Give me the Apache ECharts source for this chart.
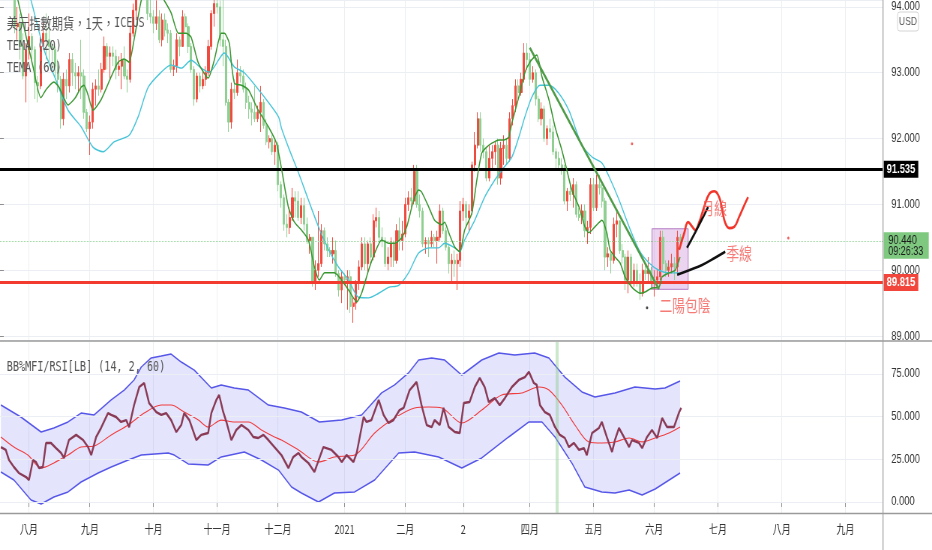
<!DOCTYPE html>
<html><head><meta charset="utf-8">
<script src="https://cdn.jsdelivr.net/npm/echarts@6/dist/echarts.min.js"></script>
<style>
html,body{margin:0;padding:0;background:#fff;overflow:hidden;}
#wrap{width:932px;height:550px;overflow:hidden;position:relative;background:#fff;}
#c{width:1243px;height:550px;transform:scaleX(0.749799);transform-origin:0 0;}
</style></head><body>
<div id="wrap"><div id="c"></div></div>
<script>
// ---------- calendar / tick labels ----------
const startDate = [2020, 6, 20];   // first weekday slot (2020-07-20)
const slotCount = 306;             // weekday slots incl. future space
const monthLabels = ['八月','九月','十月','十一月','十二月','2021','二月','2','四月','五月','六月','七月','八月','九月'];

// ---------- daily candles [open, close, low, high] ----------
const ohlc = [
[95.90,95.80,95.70,96.10],[95.80,95.10,95.00,95.90],[95.10,95.00,94.85,95.30],[95.00,94.70,94.55,95.15],[94.70,94.40,94.30,94.80],
[94.40,93.70,93.60,94.45],[93.70,93.75,93.50,94.00],[93.75,93.40,93.20,93.90],[93.40,92.95,92.90,93.60],[92.95,93.35,92.55,93.45],
[93.35,93.55,93.20,93.90],[93.55,93.35,93.20,93.60],[93.35,92.85,92.60,93.40],[92.85,92.80,92.55,92.95],[92.80,93.40,92.75,93.55],
[93.40,93.60,93.35,93.75],[93.60,93.50,93.20,93.90],[93.50,93.40,93.10,93.75],[93.40,93.35,93.00,93.45],[93.35,93.10,92.90,93.40],
[93.10,92.90,92.70,93.20],[92.90,92.30,92.15,92.95],[92.30,92.90,92.20,93.00],[92.90,92.80,92.60,93.05],[92.80,93.20,92.70,93.30],
[93.20,93.00,92.80,93.30],[93.00,92.95,92.75,93.15],[92.95,93.00,92.70,93.10],[93.00,92.95,92.60,93.50],[92.95,92.40,92.30,93.05],
[92.40,92.15,92.10,92.45],[92.15,92.25,91.75,92.35],[92.25,92.75,92.15,92.85],[92.75,92.80,92.50,92.90],[92.80,92.75,92.65,93.05],
[92.75,93.05,92.70,93.15],[93.05,93.40,93.00,93.55],[93.40,93.25,93.05,93.45],[93.25,93.30,92.90,93.40],[93.30,93.25,93.10,93.40],
[93.25,93.05,92.90,93.35],[93.05,93.10,92.95,93.25],[93.10,93.20,92.75,93.30],[93.20,92.95,92.90,93.40],[92.95,92.90,92.70,93.05],
[92.90,93.60,92.85,93.70],[93.60,93.95,93.55,94.05],[93.95,94.35,93.80,94.50],[94.35,94.40,94.20,94.70],[94.40,94.60,94.30,94.75],
[94.60,94.25,94.20,94.65],[94.25,93.90,93.80,94.35],[93.90,93.85,93.75,94.25],[93.85,93.75,93.60,93.95],[93.75,93.85,93.65,94.10],
[93.85,93.50,93.45,93.95],[93.50,93.80,93.40,93.90],[93.80,93.65,93.55,93.90],[93.65,93.60,93.45,93.75],[93.60,93.05,93.00,93.65],
[93.05,93.10,92.95,93.20],[93.10,93.50,93.00,93.60],[93.50,93.40,93.25,93.55],[93.40,93.85,93.40,93.95],[93.85,93.70,93.60,93.90],
[93.70,93.40,93.30,93.75],[93.40,93.05,93.00,93.45],[93.05,92.60,92.50,93.10],[92.60,92.95,92.55,93.00],[92.95,92.80,92.70,93.00],
[92.80,92.90,92.75,93.05],[92.90,93.00,92.80,93.10],[93.00,93.40,92.95,93.50],[93.40,93.90,93.35,93.95],[93.90,94.05,93.70,94.15],
[94.05,94.00,93.90,94.30],[94.00,93.50,93.40,94.10],[93.50,93.40,93.10,94.30],[93.40,92.55,92.50,93.50],[92.55,92.25,92.10,92.60],
[92.25,92.75,92.15,92.85],[92.75,92.70,92.60,92.90],[92.70,93.00,92.65,93.20],[93.00,92.95,92.85,93.10],[92.95,92.75,92.70,93.05],
[92.75,92.55,92.45,92.85],[92.55,92.45,92.30,92.65],[92.45,92.40,92.20,92.55],[92.40,92.30,92.25,92.80],[92.30,92.40,92.25,92.50],
[92.40,92.55,92.10,92.80],[92.55,92.20,92.15,92.60],[92.20,91.95,91.90,92.30],[91.95,92.00,91.85,92.05],[92.00,91.80,91.75,92.05],
[91.80,91.90,91.60,92.00],[91.90,91.30,91.20,91.95],[91.30,91.10,90.95,91.35],[91.10,90.70,90.60,91.15],[90.70,90.65,90.50,90.85],
[90.65,90.80,90.55,90.95],[90.80,91.10,90.75,91.25],[91.10,91.05,90.80,91.20],[91.05,90.80,90.75,91.20],[90.80,90.98,90.70,91.10],
[90.98,90.70,90.60,91.10],[90.70,90.45,90.40,90.80],[90.45,90.50,90.25,90.55],[90.50,89.80,89.75,90.50],[89.80,90.00,89.70,90.15],
[90.00,90.10,89.90,90.90],[90.10,90.60,90.05,90.70],[90.60,90.40,90.30,90.65],[90.40,90.30,90.20,90.50],[90.30,90.25,90.20,90.35],
[90.25,90.30,90.10,90.50],[90.30,89.95,89.90,90.45],[89.95,89.70,89.60,90.00],[89.70,89.90,89.50,90.00],[89.90,89.85,89.80,89.95],
[89.85,89.90,89.40,90.00],[89.90,89.45,89.35,90.00],[89.45,89.50,89.20,89.60],[89.50,89.80,89.40,89.85],[89.80,90.05,89.70,90.15],
[90.05,90.40,90.00,90.50],[90.40,90.10,90.00,90.50],[90.10,90.40,89.95,90.45],[90.40,90.20,90.10,90.50],[90.20,90.75,90.15,90.85],
[90.75,90.80,90.65,90.95],[90.80,90.50,90.40,90.90],[90.50,90.45,90.35,90.65],[90.45,90.10,90.05,90.50],[90.10,90.20,90.00,90.35],
[90.20,90.40,90.05,90.50],[90.40,90.15,90.05,90.45],[90.15,90.60,90.10,90.70],[90.60,90.45,90.30,90.80],[90.45,90.55,90.30,90.75],
[90.55,91.00,90.50,91.10],[91.00,91.10,90.90,91.20],[91.10,91.05,90.95,91.25],[91.05,91.50,91.00,91.60],[91.50,91.00,90.95,91.60],
[91.00,90.90,90.80,91.15],[90.90,90.40,90.35,90.95],[90.40,90.45,90.25,90.50],[90.45,90.40,90.20,90.50],[90.40,90.50,90.35,90.60],
[90.50,90.45,90.35,90.55],[90.45,90.50,90.10,90.60],[90.50,90.90,90.45,91.00],[90.90,90.60,90.55,90.95],[90.60,90.35,90.30,90.65],
[90.35,90.10,89.95,90.40],[90.10,90.15,89.80,90.25],[90.15,90.10,89.90,90.30],[90.10,90.15,89.70,90.25],[90.15,90.90,90.05,91.05],
[90.90,91.00,90.75,91.10],[91.00,90.80,90.65,91.05],[90.80,90.90,90.60,91.00],[90.90,91.60,90.85,91.65],[91.60,91.90,91.50,92.10],
[91.90,92.30,91.85,92.40],[92.30,91.90,91.80,92.40],[91.90,91.80,91.70,92.00],[91.80,91.40,91.35,91.85],[91.40,91.70,91.35,91.90],
[91.70,91.80,91.55,91.90],[91.80,91.90,91.60,91.95],[91.90,91.40,91.30,92.00],[91.40,91.85,91.30,91.95],[91.85,91.90,91.60,92.05],
[91.90,91.70,91.60,92.00],[91.70,92.30,91.65,92.40],[92.30,92.50,92.20,92.60],[92.50,92.80,92.40,92.90],[92.80,92.70,92.60,92.90],
[92.70,92.90,92.65,93.00],[92.90,93.30,92.85,93.45],[93.30,93.20,93.05,93.45],[93.20,92.90,92.80,93.30],[92.90,93.00,92.85,93.10],
[93.00,92.60,92.50,93.05],[92.60,92.30,92.25,92.65],[92.30,92.45,92.20,92.55],[92.45,92.00,91.95,92.50],[92.00,92.15,91.90,92.20],
[92.15,92.10,92.00,92.30],[92.10,91.80,91.75,92.20],[91.80,91.70,91.55,91.85],[91.70,91.60,91.55,91.80],[91.60,91.55,91.45,91.70],
[91.55,91.05,91.00,91.60],[91.05,91.20,90.90,91.25],[91.20,91.15,91.05,91.30],[91.15,91.30,90.95,91.40],[91.30,90.85,90.80,91.35],
[90.85,90.80,90.75,90.95],[90.80,90.90,90.70,91.00],[90.90,90.60,90.50,91.00],[90.60,90.65,90.40,90.75],[90.65,91.30,90.55,91.40],
[91.30,90.95,90.90,91.40],[90.95,91.30,90.90,91.45],[91.30,91.25,91.15,91.45],[91.25,91.05,90.95,91.35],[91.05,90.20,90.00,91.10],
[90.20,90.25,90.05,90.35],[90.25,90.15,89.95,90.30],[90.15,90.70,90.10,90.80],[90.70,90.75,90.50,90.90],[90.75,90.30,90.25,90.75],
[90.30,90.20,90.10,90.40],[90.20,89.85,89.70,90.25],[89.85,90.20,89.65,90.30],[90.20,89.80,89.75,90.25],[89.80,90.00,89.75,90.10],
[90.00,89.80,89.75,90.10],[89.80,89.65,89.55,89.95],[89.65,90.00,89.60,90.10],[90.00,89.95,89.85,90.10],[89.95,90.00,89.80,90.20],
[90.00,89.80,89.70,90.05],[89.80,89.85,89.60,90.00],[89.85,89.90,89.75,90.00],[89.90,90.50,89.85,90.60],[90.50,90.10,90.00,90.60],
[90.10,90.00,89.90,90.15],[90.00,90.05,89.90,90.15],[90.05,90.10,89.95,90.25],[90.10,90.05,89.85,90.20],[90.05,90.50,89.95,90.60],
[90.50,90.44,90.35,90.55]
];

// ---------- TEMA lines [slot, price] ----------
const temaFastPts = [[5,94.35],[6.2,94.10],[8.5,93.65],[11.4,93.09],[14.1,92.62],[16,92.75],[18.6,92.86],[20.4,92.78],[23.5,92.51],[26,92.62],[28,92.78],[29,92.81],[30.5,92.65],[32.1,92.43],[34.9,92.59],[38.4,92.94],[40.8,93.16],[42.9,93.21],[44.6,93.16],[46.3,93.50],[48.8,94.10],[51,94.35],[54,94.30],[56.7,94.10],[59.1,93.91],[61.6,93.60],[64.3,93.60],[66,93.54],[68.5,93.15],[71.9,92.92],[74,93.19],[76.4,93.60],[77.5,93.60],[79.2,93.45],[79.9,93.15],[81,92.84],[83.4,92.81],[85.8,92.74],[89.2,92.43],[92.7,92.18],[95.5,91.93],[97.2,91.55],[99.6,90.96],[101.7,90.73],[104.1,90.61],[106.5,90.46],[108.6,90.05],[110.3,89.85],[112.1,89.96],[115.5,89.96],[118,89.85],[120.4,89.70],[123.2,89.52],[124.9,89.65],[127.3,90.00],[129.4,90.26],[131.8,90.46],[134.2,90.41],[136.3,90.41],[138.7,90.49],[140.5,90.66],[142.9,91.07],[144.6,91.22],[145.6,91.19],[148.1,90.96],[150.1,90.76],[152.6,90.69],[153.6,90.73],[155,90.57],[157.1,90.35],[158.8,90.28],[160.5,90.61],[163,90.87],[164.7,91.37],[166.4,91.78],[168.1,91.87],[169.9,91.93],[172.3,91.98],[174,91.98],[175.7,92.02],[176.8,92.24],[179.2,92.63],[181.3,93.00],[183,93.16],[185.4,93.27],[187.2,92.94],[189.6,92.59],[191.7,92.18],[194.1,91.82],[195.8,91.52],[197.5,91.22],[200,90.96],[202,90.66],[203.4,90.57],[205.5,90.66],[207.9,90.76],[209.6,90.57],[210.7,90.31],[212.4,90.20],[214.2,90.11],[215.9,89.90],[218.3,89.74],[221.1,89.65],[222.8,89.67],[225.2,89.73],[227.6,89.74],[228.7,89.90],[231.1,89.96],[233.2,90.00],[234.9,90.20]];
const temaSlowPts = [[8,94.50],[10.7,94.10],[15.2,93.35],[19.3,92.89],[23.5,92.43],[28,92.18],[32.1,91.87],[35.6,91.80],[39.4,91.95],[44.6,92.05],[47.7,92.33],[51.2,92.78],[55.7,93.01],[59.1,93.12],[62.6,93.07],[66,93.19],[69.5,93.07],[72.3,93.01],[77.5,93.30],[80.9,93.09],[84.4,93.00],[91.3,92.63],[96.2,92.33],[97.2,92.16],[99.6,91.87],[103.1,91.48],[106.5,91.07],[110,90.66],[113.5,90.31],[116.9,90.05],[120.4,89.85],[123.8,89.59],[127.3,89.58],[130.8,89.65],[134.2,89.74],[137.7,89.77],[141.1,89.96],[144.6,90.26],[148.1,90.34],[151.5,90.34],[153.6,90.41],[157.1,90.34],[158.8,90.28],[160.5,90.46],[164,90.76],[167.4,91.11],[170.9,91.37],[173.3,91.52],[176.8,91.72],[179.2,92.02],[181.3,92.33],[183.7,92.63],[186.5,92.81],[189.6,92.81],[193,92.69],[196.5,92.43],[198.8,92.15],[201,91.90],[204.5,91.72],[207.9,91.63],[210.4,91.42],[213.8,91.07],[217.3,90.66],[220.7,90.31],[224.2,90.11],[227.6,90.00],[231.1,89.96],[234.6,89.96]];

// ---------- lower pane: BB%MFI/RSI [slot, value] ----------
const rsiPts = [[0.3,32.2],[2,30.5],[3.1,24.6],[4.8,20.5],[6.5,17],[9,14.6],[10,12.9],[11.4,24.6],[12.4,23.4],[13.5,19.9],[14.8,20.5],[15.9,34.6],[17.6,34.6],[19.3,31.6],[21.1,28.7],[22.1,25.8],[23.8,36.3],[26.3,39.3],[28.7,36.3],[30.4,32.2],[31.5,27.5],[33.2,38.1],[34.9,43.4],[37.3,52.1],[38.4,51],[40.1,49.8],[41.8,46.9],[43.6,48],[44.6,43.9],[46.3,56.8],[48.1,67.4],[49.8,69.7],[51.5,58],[54,52.7],[55.7,51],[57.4,52.1],[59.1,48],[60.9,41],[62.6,45.1],[63.6,52.1],[65.4,48],[67.8,36.3],[69.5,39.3],[71.9,40.4],[73,52.1],[74.7,59.8],[75.7,62.7],[77.1,52.7],[78.2,46.9],[79.9,36.3],[81.6,42.2],[83.4,45.1],[85.8,42.2],[87.5,38.1],[89.2,37.5],[91,39.3],[92.7,36.3],[94.8,32.2],[97.2,27.5],[99.6,19.9],[101.3,26.4],[103.1,28.7],[104.1,26.4],[106.5,22.9],[108.6,17.6],[111.7,32.2],[114.5,30.5],[116.9,26.4],[118,23.4],[119.7,27.5],[122.1,23.4],[123.2,28.7],[125.6,49.8],[126.6,46.9],[128.3,48],[130.8,59.8],[132.5,51],[134.2,46.3],[135.9,48],[138,53.9],[139.4,55.1],[141.5,65.6],[143.9,70.3],[145.6,56.8],[147.4,45.1],[149.1,43.9],[150.1,48],[151.9,45.1],[153.2,55.1],[155,43.9],[157.1,41],[158.8,40.4],[160.2,58],[162.2,58.6],[164,67.4],[165.7,72.7],[167.4,67.4],[168.8,58.6],[170.9,60.9],[172.6,56.8],[174.4,60.9],[176.8,67.4],[179.2,71.5],[181.3,73.2],[182.7,76.2],[184.4,69.7],[185.4,68.6],[186.5,56.8],[188.2,52.7],[189.9,51],[191.7,43.9],[193.4,39.3],[195.1,37.5],[196.5,32.2],[198.2,34.6],[200,30.5],[201.7,31.6],[202.7,27.5],[204.5,40.4],[206.9,43.4],[207.9,46.9],[209.6,38.1],[211.4,29.3],[212.4,36.3],[213.8,43.4],[215.5,38.1],[217.3,32.2],[218.3,36.3],[220.7,34.6],[221.8,31.6],[223.5,38.1],[225.2,42.2],[227,37.5],[228.7,49.2],[230.4,43.9],[232.8,43.9],[234.6,52.7],[235.3,55.1]];
const basisPts = [[0.3,38.1],[4.8,32.2],[9.6,27.5],[14.2,19.9],[18.6,22.9],[23.5,27.5],[28,32.2],[32.5,32.8],[38.4,39.3],[44.3,45.1],[49.8,52.1],[55.7,56.8],[59.1,56.8],[63.6,52.7],[68.5,48],[71.9,43.9],[76.4,48],[80.9,46.9],[85.8,46.9],[90.3,42.2],[94.8,38.1],[97.2,36.3],[103.1,30.5],[110,23.4],[115.5,26.4],[122.5,27.5],[129.4,40.4],[136.3,49.2],[143.2,55.1],[148.1,55.7],[152.6,55.1],[159.5,46.3],[166.4,53.9],[173.3,62.7],[180.2,63.9],[186.1,67.4],[189.6,65.6],[194.1,56.8],[198.6,45.1],[203.4,35.2],[207.9,34.6],[212.4,35.2],[217.3,37.5],[221.8,35.2],[226.3,37.5],[231.1,40.4],[234.9,43.9]];
const upperPts = [[0.3,56.8],[7.2,49.8],[14.2,41],[18.6,43.4],[23.5,46.9],[28,52.1],[32.5,51],[38.4,59.8],[42.9,65.6],[46.3,71.5],[48.8,79.1],[52.2,84.4],[55.7,85.5],[59.1,86.7],[62.6,82],[67.1,77.3],[73,66.8],[76.4,68.6],[80.9,66.8],[85.8,65.6],[92.7,56.8],[98.2,55.1],[104.1,52.7],[110.3,46.9],[118,48],[124.9,51],[131.8,63.9],[136.3,68.6],[141.1,75.6],[144.6,83.2],[149.1,84.4],[153.6,83.2],[159.5,74.4],[166.4,83.2],[172.3,87.3],[177.8,86.1],[184.7,87.3],[189.6,84.4],[195.1,73.2],[201,64.5],[205.5,61.5],[212.4,63.9],[219.3,67.4],[226.3,66.2],[229.7,66.8],[234.9,70.9]];
const lowerPts = [[0.3,17.6],[4.8,12.9],[10.7,1.2],[14.2,-1.2],[18.6,2.9],[23.5,5.9],[28,11.7],[33.9,17],[38.4,20.5],[44.3,24.6],[48.8,27.5],[58.1,28.7],[60.2,27.5],[65,22.3],[71.9,21.7],[76.4,26.4],[84.4,29.3],[90.3,24.6],[96.2,18.7],[100.7,8.8],[104.1,5.3],[110,0],[115.5,5.3],[122.5,5.9],[129.4,12.9],[137.7,28.7],[143.2,29.3],[151.5,26.4],[159.5,19.9],[166.4,25.8],[175.7,38.1],[182.7,46.9],[187.2,46.9],[191.7,38.1],[197.5,22.9],[202,8.8],[207.9,5.9],[212.4,5.3],[217.3,7],[221.8,4.1],[226.3,7.6],[234.9,17]];
const oscTicks = [0, 25, 50, 75];

// ---------- levels & drawings ----------
const levelBlack = 91.535, levelRed = 89.815, lastPrice = 90.44, lastTime = '09:26:33';
const trendLine = [[183, 93.38], [227.6, 89.71]];
const boxArea = [[225.2, 90.63], [237.7, 89.71]];
const redCurve = [[234.6,90.31],[236.3,90.56],[237.7,90.73],[239.1,90.66],[240.1,90.61],[241.5,90.73],[243.2,90.96],[245,91.16],[246.7,91.20],[248.4,91.11],[249.5,90.91],[250.5,90.72],[251.9,90.64],[253.6,90.66],[255.3,90.81],[257.1,90.99],[258.4,91.11]];
const arrowMonth = [[237.3,90.34],[239.1,90.49],[241.5,90.69],[243.2,90.84],[244.6,90.96]];
const arrowSeason = [[233.9,89.93],[238,90.00],[242.5,90.08],[247,90.19],[250.5,90.28]];
const noteTexts = [{name:'月線', value:[246.7,90.93]}, {name:'季線', value:[255.3,90.26]}, {name:'二陽包陰', value:[236.6,89.46]}];
const dots = [{value:[218.3,91.92], c:'#f03c3c'}, {value:[272.3,90.49], c:'#f03c3c'}, {value:[223.5,89.43], c:'#111'}];
const highlightSlot = 192.4;

// ---------- build categories ----------
const dates = [];
let dd = new Date(Date.UTC(startDate[0], startDate[1], startDate[2]));
while (dates.length < slotCount) {
  const wd = dd.getUTCDay();
  if (wd !== 0 && wd !== 6) dates.push(dd.toISOString().slice(0, 10));
  dd = new Date(dd.getTime() + 86400000);
}
const labelAt = {};
let mi = 0;
for (let i = 1; i < dates.length; i++) {
  if (dates[i].slice(5, 7) !== dates[i - 1].slice(5, 7)) labelAt[i] = monthLabels[mi++];
}
const isMonth = (idx) => labelAt[idx] !== undefined;

const S = 0.749799;
const W = 1243;
const plotRight = 883 / S;          // inner px
const gridRight = W - plotRight;
const GRID_C = '#ebeff4';
const NUMF = 'Liberation Sans, Arial, sans-serif';
const MONO = 'DejaVu Sans Mono, monospace';
const CJK = 'Noto Sans CJK TC, Noto Sans CJK SC, sans-serif';
const AX_FONT = 12.5;

const chart = echarts.init(document.getElementById('c'), null, {renderer: 'canvas'});
const lineBase = {type: 'line', showSymbol: false, silent: true, animation: false};

chart.setOption({
  animation: false,
  backgroundColor: '#fff',
  grid: [
    {left: 0, right: gridRight, top: 0, height: 340},
    {left: 0, right: gridRight, top: 342, height: 171}
  ],
  xAxis: [
    {type: 'category', gridIndex: 0, data: dates, boundaryGap: false,
     axisLine: {show: false}, axisTick: {show: false}, axisLabel: {show: false},
     splitLine: {show: true, interval: isMonth, lineStyle: {color: GRID_C, width: 1}}},
    {type: 'category', gridIndex: 1, data: dates, boundaryGap: false,
     axisLine: {show: false},
     axisTick: {show: true, interval: isMonth, length: 5, lineStyle: {color: '#8f8f8f'}},
     axisLabel: {show: true, interval: isMonth, formatter: (v, i) => labelAt[i] || '',
                 color: '#333', fontSize: 12, fontFamily: CJK, margin: 10},
     splitLine: {show: true, interval: isMonth, lineStyle: {color: GRID_C, width: 1}}},
    {type: 'value', gridIndex: 0, min: 0, max: slotCount - 1, show: false},
    {type: 'value', gridIndex: 1, min: 0, max: slotCount - 1, show: false}
  ],
  yAxis: [
    {type: 'value', gridIndex: 0, position: 'right', min: 88.94, max: 94.105, splitNumber: 5,
     axisLine: {show: false},
     axisTick: {show: true, length: 5, lineStyle: {color: '#8f8f8f'}},
     axisLabel: {formatter: v => v.toFixed(3), showMinLabel: false, showMaxLabel: false,
                 color: '#333', fontSize: AX_FONT, fontFamily: NUMF, margin: 11},
     splitLine: {show: true, lineStyle: {color: GRID_C, width: 1}}},
    {type: 'value', gridIndex: 1, position: 'right', min: -6.45, max: 93.75,
     axisLine: {show: false},
     axisTick: {show: true, length: 5, customValues: oscTicks, lineStyle: {color: '#8f8f8f'}},
     axisLabel: {customValues: oscTicks, formatter: v => Number(v).toFixed(3),
                 color: '#333', fontSize: AX_FONT, fontFamily: NUMF, margin: 11},
     splitLine: {show: false}}
  ],
  series: [
    // lower pane grid lines + highlight
    Object.assign({}, lineBase, {xAxisIndex: 3, yAxisIndex: 1, data: [], z: 0,
      markLine: {silent: true, symbol: ['none', 'none'], label: {show: false}, animation: false,
        data: oscTicks.map(v => ({yAxis: v, lineStyle: {color: GRID_C, width: 1, type: 'solid'}}))
          .concat([{xAxis: highlightSlot, lineStyle: {color: 'rgba(140,205,140,0.45)', width: 4, type: 'solid'}}])}}),
    // candles
    {type: 'candlestick', xAxisIndex: 0, yAxisIndex: 0, data: ohlc, barWidth: 2.6, silent: true, z: 3,
     itemStyle: {color: '#f04a3e', color0: '#8fcf91', borderColor: '#f04a3e', borderColor0: '#8fcf91', borderWidth: 1},
     markLine: {silent: true, symbol: ['none', 'none'], label: {show: false}, animation: false,
       data: [
         {yAxis: lastPrice, lineStyle: {color: '#9bd49d', width: 1, type: 'dotted'}},
         {yAxis: levelBlack, lineStyle: {color: '#000', width: 3, type: 'solid'}},
         {yAxis: levelRed, lineStyle: {color: '#f23a2f', width: 3, type: 'solid'}}
       ]}},
    Object.assign({}, lineBase, {name: 'TEMA60', xAxisIndex: 2, yAxisIndex: 0, data: temaSlowPts, smooth: 0.25, z: 4,
      lineStyle: {color: '#45c4d8', width: 1.4}}),
    Object.assign({}, lineBase, {name: 'TEMA20', xAxisIndex: 2, yAxisIndex: 0, data: temaFastPts, smooth: 0.2, z: 5,
      lineStyle: {color: '#38952f', width: 1.5}}),
    // drawings
    Object.assign({}, lineBase, {xAxisIndex: 2, yAxisIndex: 0, data: trendLine, z: 6,
      lineStyle: {color: '#4e9c47', width: 2.6},
      markArea: {silent: true, itemStyle: {color: 'rgba(190,120,205,0.32)', borderColor: '#b57ec4', borderWidth: 1},
        data: [[{coord: boxArea[0]}, {coord: boxArea[1]}]]}}),
    Object.assign({}, lineBase, {xAxisIndex: 2, yAxisIndex: 0, data: redCurve, smooth: 0.45, z: 7,
      lineStyle: {color: '#f2352a', width: 2.6}}),
    Object.assign({}, lineBase, {xAxisIndex: 2, yAxisIndex: 0, data: arrowMonth, smooth: 0.4, z: 7,
      lineStyle: {color: '#111', width: 2.6}}),
    Object.assign({}, lineBase, {xAxisIndex: 2, yAxisIndex: 0, data: arrowSeason, smooth: 0.4, z: 7,
      lineStyle: {color: '#111', width: 2.6}}),
    {type: 'scatter', xAxisIndex: 2, yAxisIndex: 0, silent: true, z: 8, symbolSize: 1,
     itemStyle: {color: 'rgba(0,0,0,0)'}, data: noteTexts,
     label: {show: true, position: 'inside', formatter: '{b}', color: '#f25a55', fontSize: 17, fontFamily: CJK}},
    {type: 'scatter', xAxisIndex: 2, yAxisIndex: 0, silent: true, z: 8, symbolSize: 3,
     data: dots.map(d => ({value: d.value, itemStyle: {color: d.c}}))},
    // lower pane
    {type: 'custom', xAxisIndex: 3, yAxisIndex: 1, silent: true, z: 2, data: [[0, 0]],
     renderItem: function (params, api) {
       const pts = upperPts.map(p => api.coord(p)).concat(lowerPts.slice().reverse().map(p => api.coord(p)));
       return {type: 'polygon', shape: {points: pts}, style: {fill: 'rgba(120,120,245,0.2)'}};
     }},
    Object.assign({}, lineBase, {xAxisIndex: 3, yAxisIndex: 1, data: upperPts, z: 3, lineStyle: {color: '#5656e8', width: 1.5}}),
    Object.assign({}, lineBase, {xAxisIndex: 3, yAxisIndex: 1, data: lowerPts, z: 3, lineStyle: {color: '#5656e8', width: 1.5}}),
    Object.assign({}, lineBase, {xAxisIndex: 3, yAxisIndex: 1, data: basisPts, smooth: 0.3, z: 4, lineStyle: {color: '#f03c3c', width: 1.1}}),
    Object.assign({}, lineBase, {xAxisIndex: 3, yAxisIndex: 1, data: rsiPts, z: 5, lineStyle: {color: '#8a3a55', width: 2.4}})
  ]
});

// ---------- overlays positioned through the axis scales ----------
const yB = chart.convertToPixel({yAxisIndex: 0}, levelBlack);
const yR = chart.convertToPixel({yAxisIndex: 0}, levelRed);
const yG = chart.convertToPixel({yAxisIndex: 0}, lastPrice);
const bx = plotRight + 1;
function priceTag(y, text, bg, fg) {
  return {type: 'group', z: 200, children: [
    {type: 'rect', shape: {x: bx, y: y - 8.5, width: 46, height: 17}, style: {fill: bg}},
    {type: 'text', x: bx + 23, y: y + 0.5, style: {text: text, fill: fg, font: 'bold 12.5px ' + NUMF, align: 'center', verticalAlign: 'middle'}}
  ]};
}
chart.setOption({graphic: [
  {type: 'line', z: 150, shape: {x1: 0, y1: 341, x2: W, y2: 341}, style: {stroke: '#9a9a9a', lineWidth: 1.6}},
  {type: 'line', z: 150, shape: {x1: 0, y1: 513.5, x2: W, y2: 513.5}, style: {stroke: '#9a9a9a', lineWidth: 1.6}},
  {type: 'line', z: 150, shape: {x1: plotRight, y1: 0, x2: plotRight, y2: 550}, style: {stroke: '#a0a0a0', lineWidth: 1.3}},
  {type: 'text', z: 150, x: 9, y: 23, style: {text: '{c|美元指數期貨，1天，}{a|ICEUS}', verticalAlign: 'middle',
     rich: {c: {fontFamily: CJK, fontSize: 15, fill: '#555', color: '#555'},
            a: {fontFamily: MONO, fontSize: 13.5, fill: '#555', color: '#555'}}}},
  {type: 'text', z: 150, x: 9, y: 46, style: {text: 'TEMA (20)', font: '13.5px ' + MONO, fill: '#555', verticalAlign: 'middle'}},
  {type: 'text', z: 150, x: 9, y: 68, style: {text: 'TEMA (60)', font: '13.5px ' + MONO, fill: '#555', verticalAlign: 'middle'}},
  {type: 'text', z: 150, x: 9, y: 367, style: {text: 'BB%MFI/RSI[LB] (14, 2, 60)', font: '13.5px ' + MONO, fill: '#555', verticalAlign: 'middle'}},
  {type: 'group', z: 200, children: [
    {type: 'rect', shape: {x: 1197, y: 12, width: 28, height: 19, r: 3}, style: {fill: '#fff', stroke: '#d4d4d4', lineWidth: 1}},
    {type: 'text', x: 1211, y: 21.5, style: {text: 'USD', font: '11.5px ' + NUMF, fill: '#555', align: 'center', verticalAlign: 'middle'}}
  ]},
  priceTag(yB, levelBlack.toFixed(3), '#000', '#fff'),
  priceTag(yR, levelRed.toFixed(3), '#f2453b', '#fff'),
  {type: 'group', z: 200, children: [
    {type: 'rect', shape: {x: bx, y: yG - 9, width: 60, height: 26.5}, style: {fill: '#7ec880'}},
    {type: 'text', x: bx + 6, y: yG - 0.5, style: {text: lastPrice.toFixed(3), font: '12.5px ' + NUMF, fill: '#1a1a1a', verticalAlign: 'middle'}},
    {type: 'text', x: bx + 6, y: yG + 10, style: {text: lastTime, font: '12px ' + NUMF, fill: '#1a1a1a', verticalAlign: 'middle'}}
  ]}
]});
</script></body></html>
